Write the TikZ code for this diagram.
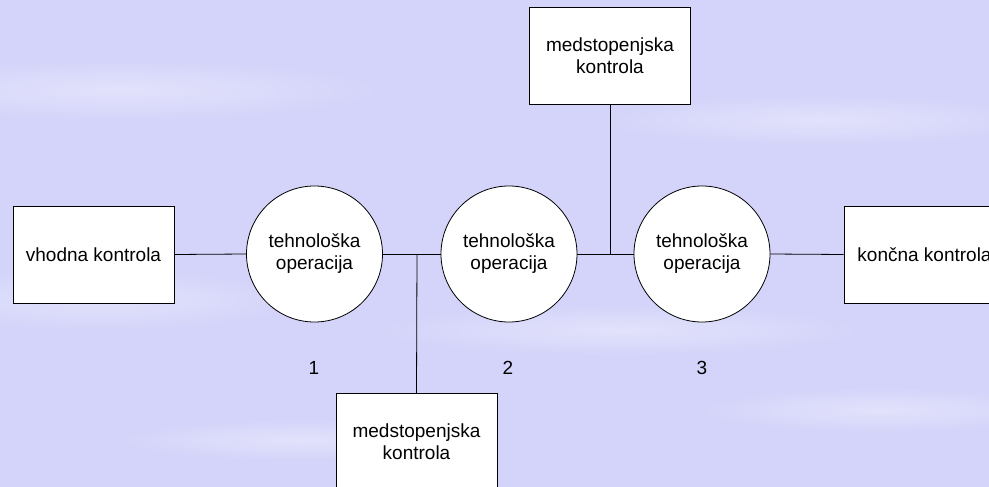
\documentclass[tikz,border=0pt]{standalone}
\usepackage{fontspec}
\setmainfont{Liberation Sans}
\definecolor{bgcol}{RGB}{212,212,250}
\definecolor{bglite}{RGB}{226,226,252}
\tikzset{
  lbl/.style={font=\fontsize{19}{22}\selectfont, align=center},
  opcircle/.style={circle, draw=black, line width=0.8pt, fill=white, minimum size=136pt, inner sep=0pt, lbl},
  ctrlbox/.style={rectangle, draw=black, line width=0.8pt, fill=white, minimum width=161pt, minimum height=97pt, inner sep=0pt, lbl},
  link/.style={draw=black, line width=0.8pt},
  num/.style={font=\fontsize{19}{22}\selectfont},
  streak/.style={inner color=bglite, outer color=bgcol}
}
\begin{document}
\begin{tikzpicture}[x=1pt,y=-1pt]
  \useasboundingbox (0,0) rectangle (989,487);
  \clip (0,0) rectangle (989,487);
  \fill[bgcol] (0,0) rectangle (989,487);
  % soft lighter streaks of the background
  \shade[streak] (120,90) ellipse (260 and 30);
  \shade[streak] (820,120) ellipse (220 and 25);
  \shade[streak] (100,300) ellipse (200 and 30);
  \shade[streak] (620,330) ellipse (240 and 25);
  \shade[streak] (880,410) ellipse (180 and 22);
  \shade[streak] (300,440) ellipse (180 and 20);

  \node[ctrlbox] (vhod) at (93.5,254.5) {vhodna kontrola};
  \node[opcircle] (op1) at (314.5,254) {tehnološka\\operacija};
  \node[opcircle] (op2) at (509,254) {tehnološka\\operacija};
  \node[opcircle] (op3) at (702,254) {tehnološka\\operacija};
  \node[ctrlbox] (konc) at (924.5,254.5) {končna kontrola};
  \node[ctrlbox] (medtop) at (610,56) {medstopenjska\\kontrola};
  \node[ctrlbox] (medbot) at (416.5,442) {medstopenjska\\kontrola};

  \node[num] (n1) at (314,368) {1};
  \node[num] (n2) at (508,368) {2};
  \node[num] (n3) at (702,368) {3};

  \coordinate (j1) at (417,254);
  \coordinate (j2) at (610,254);

  \draw[link] (vhod.east) -- (op1.west);
  \draw[link] (op1.east) -- (op2.west);
  \draw[link] (op2.east) -- (op3.west);
  \draw[link] (op3.east) -- (konc.west);
  \draw[link] (j1) -- (medbot.north);
  \draw[link] (medtop.south) -- (j2);
\end{tikzpicture}
\end{document}
